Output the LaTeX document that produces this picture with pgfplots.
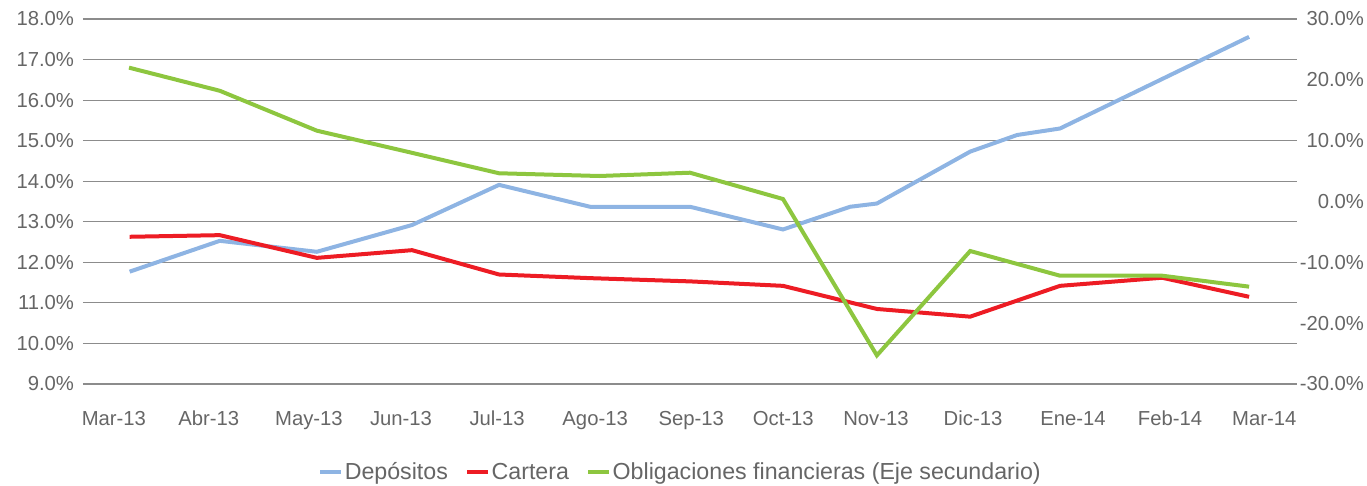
\documentclass[border=0pt]{standalone}
\usepackage{fontspec}
\setmainfont{Liberation Sans}
\usepackage{pgfplots}
\pgfplotsset{compat=1.18}
\usetikzlibrary{calc}

\definecolor{dep}{HTML}{8EB4E3}
\definecolor{car}{HTML}{ED1C24}
\definecolor{obl}{HTML}{8DC63F}
\definecolor{gridc}{HTML}{8C8C8C}
\definecolor{txt}{HTML}{666666}

% x in days from 1 Mar 2013
\pgfplotsset{
  base/.style={
    scale only axis, width=910.5pt, height=273.75pt,
    xmin=-9.8, xmax=375.4,
    axis line style={draw=none},
    major tick length=0pt,
    tick label style={font=\fontsize{15.2}{18}\selectfont, text=txt},
  },
}

\begin{document}
\begin{tikzpicture}
\begin{axis}[
  base,
  ymin=9, ymax=18,
  ytick={9,10,...,18},
  yticklabels={9.0\%,10.0\%,11.0\%,12.0\%,13.0\%,14.0\%,15.0\%,16.0\%,17.0\%,18.0\%},
  ymajorgrids,
  major grid style={gridc, line width=0.9pt},
  xtick={0,30.1,61.9,91.1,121.6,152.7,183.2,212.4,241.8,272.6,304.3,335.1,365},
  xticklabels={Mar-13,Abr-13,May-13,Jun-13,Jul-13,Ago-13,Sep-13,Oct-13,Nov-13,Dic-13,Ene-14,Feb-14,Mar-14},
  xticklabel style={anchor=north, text height=11pt, text depth=3pt, yshift=-16.5pt},
  yticklabel style={xshift=-3.2pt},
  legend style={at={(0.492,-0.242)}, anchor=center, draw=none,
    font=\fontsize{17.4}{20}\selectfont, text=txt,
    nodes={inner sep=1pt},
    /tikz/every even column/.append style={column sep=12pt}},
  legend columns=3,
  legend image code/.code={\draw[#1] (0pt,0pt) -- (15.75pt,0pt);},
]
\coordinate (sw) at (rel axis cs:0,0);
\coordinate (ne) at (rel axis cs:1,1);

% Depositos
\addplot[dep, line width=3pt] coordinates {
  (5,11.77) (33.6,12.53) (64.4,12.26) (94.6,12.92) (122.2,13.91)
  (151.1,13.37) (182.8,13.37) (212.3,12.81) (233.6,13.37) (242.1,13.45)
  (271.7,14.73) (286.6,15.14) (300.2,15.30) (332.6,16.52) (360.2,17.56)
};
% Cartera
\addplot[car, line width=3pt] coordinates {
  (5,12.63) (33.6,12.67) (64.4,12.11) (94.6,12.30) (122.2,11.70)
  (151.1,11.61) (182.8,11.53) (212.3,11.42) (242.1,10.85) (271.7,10.66)
  (300.2,11.42) (332.6,11.62) (360.2,11.15)
};
\addlegendimage{obl, line width=3pt}
\legend{Depósitos, Cartera, Obligaciones financieras (Eje secundario)}
\end{axis}

\begin{axis}[
  base,
  axis x line=none,
  axis y line*=right,
  ymin=-30, ymax=30,
  ytick={-30,-20,...,30},
  yticklabels={-30.0\%,-20.0\%,-10.0\%,0.0\%,10.0\%,20.0\%,30.0\%},
  yticklabel style={anchor=east, xshift=53.75pt},
]
% Obligaciones financieras (eje secundario)
\addplot[obl, line width=3pt] coordinates {
  (4.8,22.0) (33.6,18.2) (64.4,11.64) (94.6,8.0) (122.2,4.64)
  (154,4.19) (182.8,4.73) (212.3,0.41) (242.1,-25.3) (271.7,-8.14)
  (300.2,-12.2) (332.6,-12.2) (360.2,-14.0)
};
\end{axis}

\pgfresetboundingbox
\path ($(sw)+(-62.25pt,-76.5pt)$) rectangle ($(ne)+(52.5pt,14.25pt)$);
\end{tikzpicture}
\end{document}
